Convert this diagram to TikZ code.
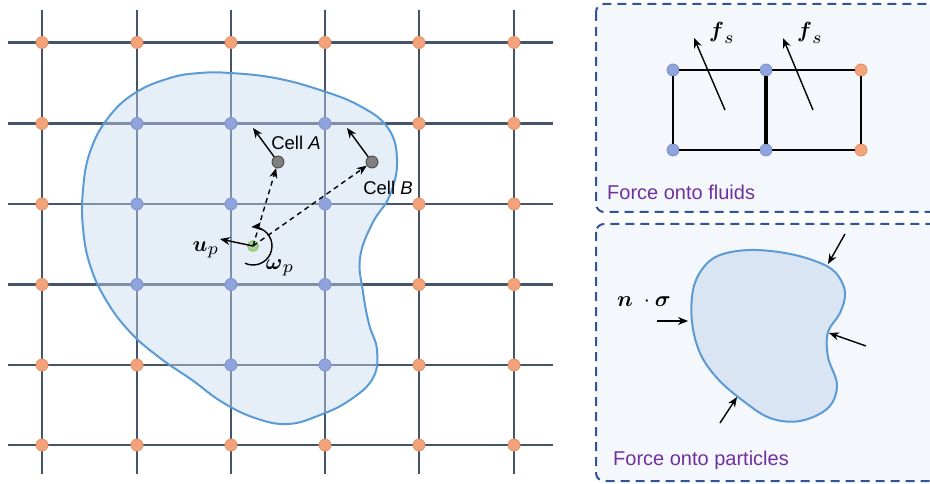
\documentclass[tikz,border=0pt]{standalone}
\usepackage{amsmath}
\usepackage{graphicx}
\usepackage{fontspec}
\setmainfont{Liberation Sans}
\usetikzlibrary{arrows.meta}
\newcommand\msym[2]{\scalebox{2.2}{$\boldsymbol{#1}_{\scalebox{1.15}{$\scriptstyle #2$}}$}}
\definecolor{gridc}{HTML}{44546A}
\definecolor{orf}{HTML}{F2A37C}
\definecolor{ord}{HTML}{E8915F}
\definecolor{blf}{HTML}{8FA4DC}
\definecolor{bld}{HTML}{7D92D0}
\definecolor{blobc}{HTML}{C7DAF0}
\definecolor{pblob}{HTML}{DAE5F3}
\definecolor{blobedge}{HTML}{5B9BD5}
\definecolor{boxc}{HTML}{2F5597}
\definecolor{boxf}{HTML}{F4F7FC}
\definecolor{purp}{HTML}{7030A0}
\definecolor{greenp}{HTML}{A9D18E}
\definecolor{greend}{HTML}{8CC06C}
\definecolor{cellf}{HTML}{7F7F7F}
\definecolor{celld}{HTML}{404040}
\begin{document}
\begin{tikzpicture}[x=1pt,y=-1pt,
 font=\fontsize{20}{24}\selectfont,
 gnode/.style={circle,inner sep=0pt,minimum size=12pt,line width=0.8pt},
 onode/.style={gnode,fill=orf,draw=ord},
 bnode/.style={gnode,fill=blf,draw=bld},
 cellnode/.style={gnode,fill=cellf,draw=celld},
 ptnode/.style={gnode,minimum size=11pt,fill=greenp,draw=greend},
 gridline/.style={draw=gridc,line width=2.4pt},
 arr/.style={-{Stealth[length=10pt,width=8pt]},line width=1.4pt},
 darr/.style={arr,dash pattern=on 5pt off 4pt},
 panel/.style={draw=boxc,fill=boxf,line width=2pt,dash pattern=on 9pt off 6pt,rounded corners=8pt},
 ptxt/.style={text=purp,anchor=west,inner sep=0pt},
 celltxt/.style={inner sep=0pt,font=\fontsize{18.5}{22}\selectfont},
 mtxt/.style={inner sep=0pt,font=\normalsize},
 blobline/.style={draw=blobedge,line width=2pt},
 rectline/.style={draw=black,line width=2pt},
]
\useasboundingbox (0,0) rectangle (930,484);
\clip (0,0) rectangle (930,484);

% ---------- grid ----------
\foreach \x in {42,137,231,325,419,514} \draw[gridline] (\x,10) -- (\x,474);
\foreach \y in {42.5,123.5,204,284.5,365,445} \draw[gridline] (8,\y) -- (553,\y);

% ---------- particle (translucent, over the grid) ----------
\draw[blobline,fill=blobc,fill opacity=0.45] plot[smooth cycle,tension=0.7] coordinates {
 (230,73) (275,78) (320,90) (360,106) (388,128) (397,160) (390,195) (372,224)
 (360,258) (363,292) (369,324) (377,350) (373,378) (350,400) (320,415) (288,424)
 (255,418) (222,402) (192,380) (160,358) (130,332) (106,300) (90,265) (83,228)
 (83,190) (90,152) (108,118) (135,93) (170,78) (200,73)};

\foreach \i/\j in {0/0,1/0,2/0,3/0,4/0,5/0,
                   0/1,4/1,5/1, 0/2,4/2,5/2, 0/3,4/3,5/3,
                   0/4,1/4,4/4,5/4,
                   0/5,1/5,2/5,3/5,4/5,5/5}{
  \pgfmathsetmacro\xx{{42,137,231,325,419,514}[\i]}
  \pgfmathsetmacro\yy{{42.5,123.5,204,284.5,365,445}[\j]}
  \node[onode] (g\i\j) at (\xx,\yy) {};
}
\foreach \i/\j in {1/1,2/1,3/1,1/2,2/2,3/2,1/3,2/3,3/3,2/4,3/4}{
  \pgfmathsetmacro\xx{{42,137,231,325,419,514}[\i]}
  \pgfmathsetmacro\yy{{42.5,123.5,204,284.5,365,445}[\j]}
  \node[bnode] (g\i\j) at (\xx,\yy) {};
}

\node[cellnode] (cellA) at (278,162) {};
\node[cellnode] (cellB) at (372,162) {};
\node[ptnode] (pt) at (253,246) {};
\coordinate (ta) at (253,128);
\coordinate (tb) at (347,128);
\coordinate (tu) at (220,239);
\draw[arr] (cellA) -- (ta);
\draw[arr] (cellB) -- (tb);
\draw[darr] (pt.center) -- (cellA);
\draw[darr] (pt.center) -- (cellB);
\draw[arr] (pt.center) -- (tu);
\draw[arr] (pt.center) ++(115:19) arc[start angle=115,end angle=-95,radius=19];
\node[celltxt] (la) at (296,143) {Cell \textit{A}};
\node[celltxt] (lb) at (388,188) {Cell \textit{B}};
\node[mtxt] (lu) at (206,250) {\msym{u}{p}};
\node[mtxt] (lw) at (280,268) {\msym{\omega}{p}};

% ---------- panel: force onto fluids ----------
\draw[panel] (596,4) rectangle (960,212);
\node[bnode] (f1) at (673,70) {};
\node[bnode] (f2) at (766,70) {};
\node[onode] (f3) at (861,70) {};
\node[bnode] (f4) at (673,150) {};
\node[bnode] (f5) at (766,150) {};
\node[onode] (f6) at (861,150) {};
\draw[rectline] (f1) -- (f2);
\draw[rectline] (f2) -- (f3);
\draw[rectline] (f3) -- (f6);
\draw[rectline] (f6) -- (f5);
\draw[rectline] (f5) -- (f4);
\draw[rectline] (f4) -- (f1);
\draw[rectline,line width=3.6pt] (f2) -- (f5);
\coordinate (fa0) at (725,110);
\coordinate (fa1) at (694,38);
\coordinate (fb0) at (813,110);
\coordinate (fb1) at (783,38);
\draw[arr] (fa0) -- (fa1);
\draw[arr] (fb0) -- (fb1);
\node[mtxt] (fs1) at (722,33) {\msym{f}{s}};
\node[mtxt] (fs2) at (810,33) {\msym{f}{s}};
\node[ptxt] (t1) at (607,192) {Force onto fluids};

% ---------- panel: force onto particles ----------
\draw[panel] (596,224) rectangle (960,481);
\draw[blobline,fill=pblob] plot[smooth cycle,tension=0.6] coordinates {
 (720,255) (750,250) (785,253) (815,261) (835,272) (845,292) (840,313) (828,332)
 (828,357) (837,385) (828,408) (800,421) (770,418) (742,400) (717,378) (700,353)
 (692,322) (693,290) (703,268)};
\coordinate (p1s) at (845,234); \coordinate (p1e) at (828,264);
\coordinate (p2s) at (657,321); \coordinate (p2e) at (688,321);
\coordinate (p3s) at (866,346); \coordinate (p3e) at (829,333);
\coordinate (p4s) at (720,423); \coordinate (p4e) at (737,397);
\draw[arr] (p1s) -- (p1e);
\draw[arr] (p2s) -- (p2e);
\draw[arr] (p3s) -- (p3e);
\draw[arr] (p4s) -- (p4e);
\node[mtxt] (ns) at (644,302) {\scalebox{2.2}{$\boldsymbol{n}\;\cdot\boldsymbol{\sigma}$}};
\node[ptxt] (t2) at (613,460) {Force onto particles};
\end{tikzpicture}
\end{document}
